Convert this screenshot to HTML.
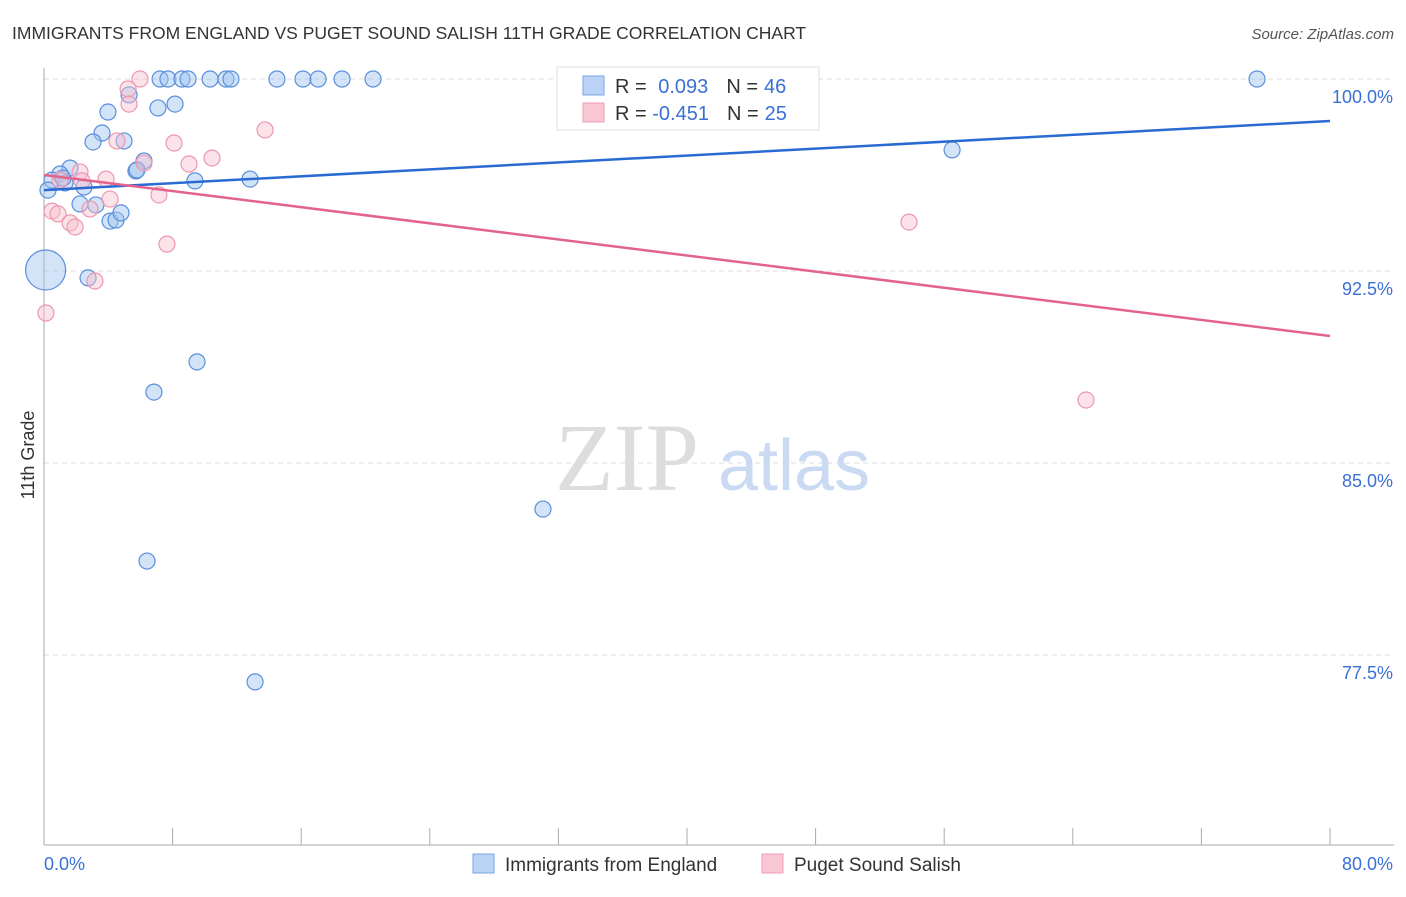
<!DOCTYPE html>
<html><head><meta charset="utf-8"><style>
body{margin:0;background:#fff;font-family:"Liberation Sans",sans-serif;}
</style></head><body>
<svg id="chart" width="1406" height="892" xmlns="http://www.w3.org/2000/svg" style="font-family:'Liberation Sans',sans-serif">
<text x="12" y="39" font-size="17.5" fill="#333">IMMIGRANTS FROM ENGLAND VS PUGET SOUND SALISH 11TH GRADE CORRELATION CHART</text>
<text x="1394" y="39" font-size="15" fill="#555" font-style="italic" text-anchor="end">Source: ZipAtlas.com</text>
<g id="grid"></g>
<g id="ylabels"></g>
<text x="34" y="455" font-size="18" fill="#333" text-anchor="middle" transform="rotate(-90 34 455)">11th Grade</text>
<text x="555" y="490" font-size="96" fill="#ddd" font-family="'Liberation Serif',serif">ZIP</text>
<text x="718" y="490" font-size="72" fill="#c9daf2">atlas</text>
<g id="pts"></g>
<g id="lines"></g>
<g>
<rect x="557" y="67" width="262" height="63" fill="#fff" stroke="#ddd"/>
<rect x="583" y="76" width="21" height="19" fill="#b9d2f5" stroke="#7aa6e6"/>
<rect x="583" y="103" width="21" height="19" fill="#f9c6d4" stroke="#ef9fb5"/>
<text x="615" y="93" font-size="20" fill="#333">R = <tspan fill="#3a70d6" dx="6">0.093</tspan><tspan dx="18" fill="#333">N =</tspan><tspan fill="#3a70d6" dx="6">46</tspan></text>
<text x="615" y="120" font-size="20" fill="#333">R = <tspan fill="#3a70d6">-0.451</tspan><tspan dx="18" fill="#333">N =</tspan><tspan fill="#3a70d6" dx="6">25</tspan></text>
</g>
<text x="44" y="870" font-size="18" fill="#3a70d6">0.0%</text>
<text x="1393" y="870" font-size="18" fill="#3a70d6" text-anchor="end">80.0%</text>
<rect x="473" y="854" width="21" height="19" fill="#b9d2f5" stroke="#7aa6e6"/>
<text x="505" y="871" font-size="19" fill="#333">Immigrants from England</text>
<rect x="762" y="854" width="21" height="19" fill="#f9c6d4" stroke="#ef9fb5"/>
<text x="794" y="871" font-size="19" fill="#333">Puget Sound Salish</text>
</svg>
<script>
const yTicks=[100,92.5,85,77.5];
const yTickLabels=["100.0%","92.5%","85.0%","77.5%"];
const blueX=[7.22,7.71,8.58,8.96,10.33,11.32,11.63,14.49,16.11,17.05,18.54,20.47,33.03,75.46,5.29,3.98,7.09,8.15,3.61,3.05,4.98,6.22,5.72,1.62,1.00,0.50,0.25,1.31,2.49,3.23,2.24,4.11,4.48,4.79,9.39,12.82,56.49,0.1,2.74,9.52,6.84,31.04,6.41,13.13,5.79,1.18];
const blueY=[100,100,100,100,100,100,100,100,100,100,100,100,100,100,99.38,98.71,98.87,99.02,97.89,97.54,97.58,96.80,96.41,96.52,96.29,96.05,95.66,95.94,95.78,95.08,95.12,94.45,94.49,94.77,96.02,96.09,97.23,92.54,92.23,88.95,87.77,83.20,81.17,76.45,96.45,96.13];
const blueR=[8,8,8,8,8,8,8,8,8,8,8,8,8,8,8,8,8,8,8,8,8,8,8,8,8,8,8,8,8,8,8,8,8,8,8,8,8,20,8,8,8,8,8,8,8,8];
const pinkX=[5.97,5.23,5.29,4.54,8.09,6.22,10.45,9.02,13.75,2.24,2.36,3.86,4.11,7.15,0.50,0.87,1.62,1.93,2.86,7.65,3.17,0.12,53.81,64.82,1.00];
const pinkY=[100,99.61,99.02,97.58,97.50,96.72,96.91,96.68,98.01,96.37,96.02,96.09,95.31,95.47,94.84,94.73,94.38,94.22,94.92,93.55,92.11,90.86,94.41,87.46,96.05];
const blueTrend=[95.66,98.36];
const pinkTrend=[96.25,89.96];
const xs=v=>44+v/80*1286, ys=v=>79+(100-v)*25.6;
const NS="http://www.w3.org/2000/svg";
function mk(t,a,p){const e=document.createElementNS(NS,t);for(const k in a)e.setAttribute(k,a[k]);p.appendChild(e);return e;}
const g=document.getElementById('grid');
yTicks.forEach((t,i)=>{
 const l=mk('line',{x1:44,x2:1394,y1:ys(t),y2:ys(t),stroke:'#ddd','stroke-dasharray':'5,4'},g);
 
 
 const tx=mk('text',{x:1393,y:ys(t)+24,'font-size':18,fill:'#3a70d6','text-anchor':'end'},document.getElementById('ylabels'));
 tx.textContent=yTickLabels[i];
 
 
});
const ax=mk('line',{x1:44,x2:44,y1:68,y2:845,stroke:'#aaa'},g);


const bx=mk('line',{x1:44,x2:1394,y1:845,y2:845,stroke:'#aaa'},g);


for(let i=0;i<=10;i++){const t=mk('line',{x1:xs(i*8),x2:xs(i*8),y1:828,y2:845,stroke:'#aaa'},g);
 
 }
const P=document.getElementById('pts');
blueX.forEach((x,i)=>{const c=mk('circle',{cx:xs(x),cy:ys(blueY[i]),r:blueR[i],fill:'rgba(160,195,240,0.45)',stroke:'#5a8fdc','stroke-width':1.2},P);
 
 });
pinkX.forEach((x,i)=>{const c=mk('circle',{cx:xs(x),cy:ys(pinkY[i]),r:8,fill:'rgba(248,190,206,0.45)',stroke:'#ec98b0','stroke-width':1.2},P);
 
 });
const L=document.getElementById('lines');
const b=mk('line',{x1:xs(0),y1:ys(blueTrend[0]),x2:xs(80),y2:ys(blueTrend[1]),stroke:'#2a6ad3','stroke-width':2.5},L);


const p=mk('line',{x1:xs(0),y1:ys(pinkTrend[0]),x2:xs(80),y2:ys(pinkTrend[1]),stroke:'#e4638c','stroke-width':2.5},L);


</script>
</body></html>
